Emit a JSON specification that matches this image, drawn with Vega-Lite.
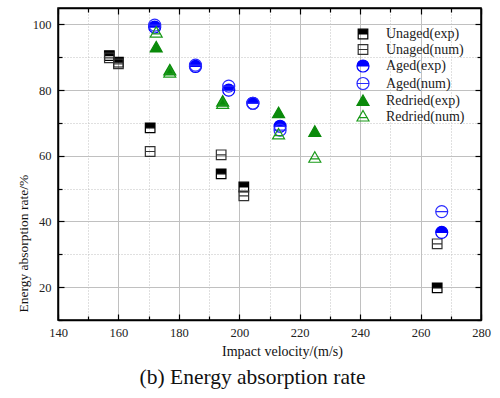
{
  "$schema": "https://vega.github.io/schema/vega-lite/v6.json",
  "width": 423,
  "height": 312,
  "autosize": "none",
  "padding": {"left": 58, "top": 8, "right": 19, "bottom": 78},
  "background": "white",
  "config": {
    "view": {"stroke": "black", "strokeWidth": 1.5},
    "font": "Liberation Serif"
  },
  "title": {
    "text": "(b) Energy absorption rate",
    "orient": "bottom",
    "anchor": "middle",
    "frame": "group",
    "font": "Liberation Serif",
    "fontSize": 21.5,
    "fontWeight": "normal",
    "color": "#111",
    "offset": 8,
    "dx": -17
  },
  "data": {
    "values": [
      {"series": "Unaged(exp)", "x": 157, "y": 90.5},
      {"series": "Unaged(exp)", "x": 160, "y": 88.5},
      {"series": "Unaged(exp)", "x": 170.5, "y": 68.5},
      {"series": "Unaged(exp)", "x": 194, "y": 54.5},
      {"series": "Unaged(exp)", "x": 201.5, "y": 50.5},
      {"series": "Unaged(exp)", "x": 265.5, "y": 19.8},
      {"series": "Unaged(num)", "x": 157, "y": 89.8},
      {"series": "Unaged(num)", "x": 160, "y": 88},
      {"series": "Unaged(num)", "x": 170.5, "y": 61.3},
      {"series": "Unaged(num)", "x": 194, "y": 60.3},
      {"series": "Unaged(num)", "x": 201.5, "y": 47.8},
      {"series": "Unaged(num)", "x": 265.5, "y": 33.2},
      {"series": "Aged(exp)", "x": 172, "y": 99.2},
      {"series": "Aged(exp)", "x": 185.5, "y": 87.2},
      {"series": "Aged(exp)", "x": 196.5, "y": 80},
      {"series": "Aged(exp)", "x": 204.5, "y": 76},
      {"series": "Aged(exp)", "x": 213.5, "y": 69},
      {"series": "Aged(exp)", "x": 267, "y": 36.7},
      {"series": "Aged(num)", "x": 172, "y": 99.8},
      {"series": "Aged(num)", "x": 185.5, "y": 87.6},
      {"series": "Aged(num)", "x": 196.5, "y": 81.2},
      {"series": "Aged(num)", "x": 204.5, "y": 76},
      {"series": "Aged(num)", "x": 213.5, "y": 67.8},
      {"series": "Aged(num)", "x": 267, "y": 43},
      {"series": "Redried(exp)", "x": 172.5, "y": 93},
      {"series": "Redried(exp)", "x": 177, "y": 86},
      {"series": "Redried(exp)", "x": 194.5, "y": 76.5},
      {"series": "Redried(exp)", "x": 213, "y": 73},
      {"series": "Redried(exp)", "x": 225, "y": 67.3},
      {"series": "Redried(num)", "x": 172.5, "y": 97.5},
      {"series": "Redried(num)", "x": 177, "y": 85.3},
      {"series": "Redried(num)", "x": 194.5, "y": 75.8},
      {"series": "Redried(num)", "x": 213, "y": 66.5},
      {"series": "Redried(num)", "x": 225, "y": 59.4}
    ]
  },
  "layer": [
    {
      "mark": {"type": "point", "strokeWidth": 1.2, "opacity": 1, "size": 144},
      "encoding": {
        "x": {
          "field": "x", "type": "quantitative",
          "scale": {"domain": [140, 280], "nice": false, "zero": false},
          "axis": {
            "orient": "bottom",
            "values": [140, 150, 160, 170, 180, 190, 200, 210, 220, 230, 240, 250, 260, 270, 280],
            "labelExpr": "datum.value % 20 === 0 ? datum.label : ''",
            "grid": true,
            "gridColor": "#c0c0c0",
            "gridWidth": 1,
            "gridDash": {"condition": {"test": "datum.value % 20 === 0", "value": []}, "value": [1, 2]},
            "tickSize": {"condition": {"test": "datum.value % 20 === 0", "value": -6}, "value": -4},
            "tickColor": "black",
            "tickWidth": 1.2,
            "domainColor": "black",
            "domainWidth": 1.5,
            "labelFont": "Liberation Serif",
            "labelFontSize": 12.5,
            "labelColor": "#222",
            "labelPadding": 12,
            "labelFlush": false,
            "title": "Impact velocity/(m/s)",
            "titleFont": "Liberation Serif",
            "titleFontSize": 14,
            "titleFontWeight": "normal",
            "titleColor": "#111",
            "titleX": 224,
            "titlePadding": 6
          }
        },
        "y": {
          "field": "y", "type": "quantitative",
          "scale": {"domain": [10, 105], "nice": false, "zero": false},
          "axis": {
            "orient": "left",
            "values": [10, 20, 30, 40, 50, 60, 70, 80, 90, 100],
            "labelExpr": "datum.value % 20 === 0 ? datum.label : ''",
            "grid": true,
            "gridColor": "#c0c0c0",
            "gridWidth": 1,
            "gridDash": {"condition": {"test": "datum.value % 20 === 0", "value": []}, "value": [1, 2]},
            "tickSize": {"condition": {"test": "datum.value % 20 === 0", "value": -6}, "value": -4},
            "tickColor": "black",
            "tickWidth": 1.2,
            "domainColor": "black",
            "domainWidth": 1.5,
            "labelFont": "Liberation Serif",
            "labelFontSize": 12.5,
            "labelColor": "#222",
            "labelPadding": 13,
            "labelFlush": false,
            "title": "Energy absorption rate/%",
            "titleFont": "Liberation Serif",
            "titleFontSize": 13.5,
            "titleFontWeight": "normal",
            "titleColor": "#111",
            "titleAnchor": "start",
            "titleY": 304,
            "titlePadding": 2
          }
        },
        "shape": {
          "field": "series", "type": "nominal",
          "scale": {
            "domain": ["Unaged(exp)", "Unaged(num)", "Aged(exp)", "Aged(num)", "Redried(exp)", "Redried(num)"],
            "range": [
              "M-0.8,-0.8H0.8V0H-0.8Z M-0.8,0V0.8H0.8V0V0.8H-0.8Z",
              "M-0.8,-0.8H0.8V0.8H-0.8Z M-0.8,0H0.8",
              "M-1,0A1,1 0 0 1 1,0Z M1,0A1,1 0 0 1 -1,0A1,1 0 0 0 1,0",
              "M-1,0A1,1 0 1 1 1,0A1,1 0 1 1 -1,0Z M-1,0H1",
              "M0,-1L1,0.75H-1Z",
              "M0,-1L1,0.75H-1Z M-0.8,0.2H0.8"
            ]
          },
          "legend": {"orient": "none", "legendX": 298, "legendY": 19, "title": null, "labelFont": "Liberation Serif", "labelFontSize": 14, "labelColor": "#222", "symbolSize": 144, "symbolStrokeWidth": 1.2, "rowPadding": -0.5, "labelOffset": 16, "padding": 0}
        },
        "fill": {
          "field": "series", "type": "nominal",
          "scale": {
            "domain": ["Unaged(exp)", "Unaged(num)", "Aged(exp)", "Aged(num)", "Redried(exp)", "Redried(num)"],
            "range": ["black", "transparent", "#0000ff", "transparent", "#0a8a0a", "transparent"]
          },
          "legend": {"orient": "none", "legendX": 298, "legendY": 19, "title": null, "labelFont": "Liberation Serif", "labelFontSize": 14, "labelColor": "#222", "symbolSize": 144, "symbolStrokeWidth": 1.2, "rowPadding": -0.5, "labelOffset": 16, "padding": 0}
        },
        "stroke": {
          "field": "series", "type": "nominal",
          "scale": {
            "domain": ["Unaged(exp)", "Unaged(num)", "Aged(exp)", "Aged(num)", "Redried(exp)", "Redried(num)"],
            "range": ["black", "#333333", "#0000ff", "#2a2aff", "#0a8a0a", "#1a9a1a"]
          },
          "legend": {"orient": "none", "legendX": 298, "legendY": 19, "title": null, "labelFont": "Liberation Serif", "labelFontSize": 14, "labelColor": "#222", "symbolSize": 144, "symbolStrokeWidth": 1.2, "rowPadding": -0.5, "labelOffset": 16, "padding": 0}
        }
      }
    },
    {
      "mark": {"type": "point", "opacity": 0},
      "encoding": {
        "x": {
          "field": "x", "type": "quantitative",
          "scale": {"domain": [140, 280], "nice": false, "zero": false},
          "axis": {
            "orient": "top",
            "values": [140, 150, 160, 170, 180, 190, 200, 210, 220, 230, 240, 250, 260, 270, 280],
            "labels": false,
            "grid": false,
            "tickSize": {"condition": {"test": "datum.value % 20 === 0", "value": -6}, "value": -4},
            "tickColor": "black",
            "tickWidth": 1.2,
            "domainColor": "black",
            "domainWidth": 1.5,
            "title": null
          }
        },
        "y": {
          "field": "y", "type": "quantitative",
          "scale": {"domain": [10, 105], "nice": false, "zero": false},
          "axis": {
            "orient": "right",
            "values": [10, 20, 30, 40, 50, 60, 70, 80, 90, 100],
            "labels": false,
            "grid": false,
            "tickSize": {"condition": {"test": "datum.value % 20 === 0", "value": -6}, "value": -4},
            "tickColor": "black",
            "tickWidth": 1.2,
            "domainColor": "black",
            "domainWidth": 1.5,
            "title": null
          }
        }
      }
    }
  ],
  "resolve": {"axis": {"x": "independent", "y": "independent"}}
}
